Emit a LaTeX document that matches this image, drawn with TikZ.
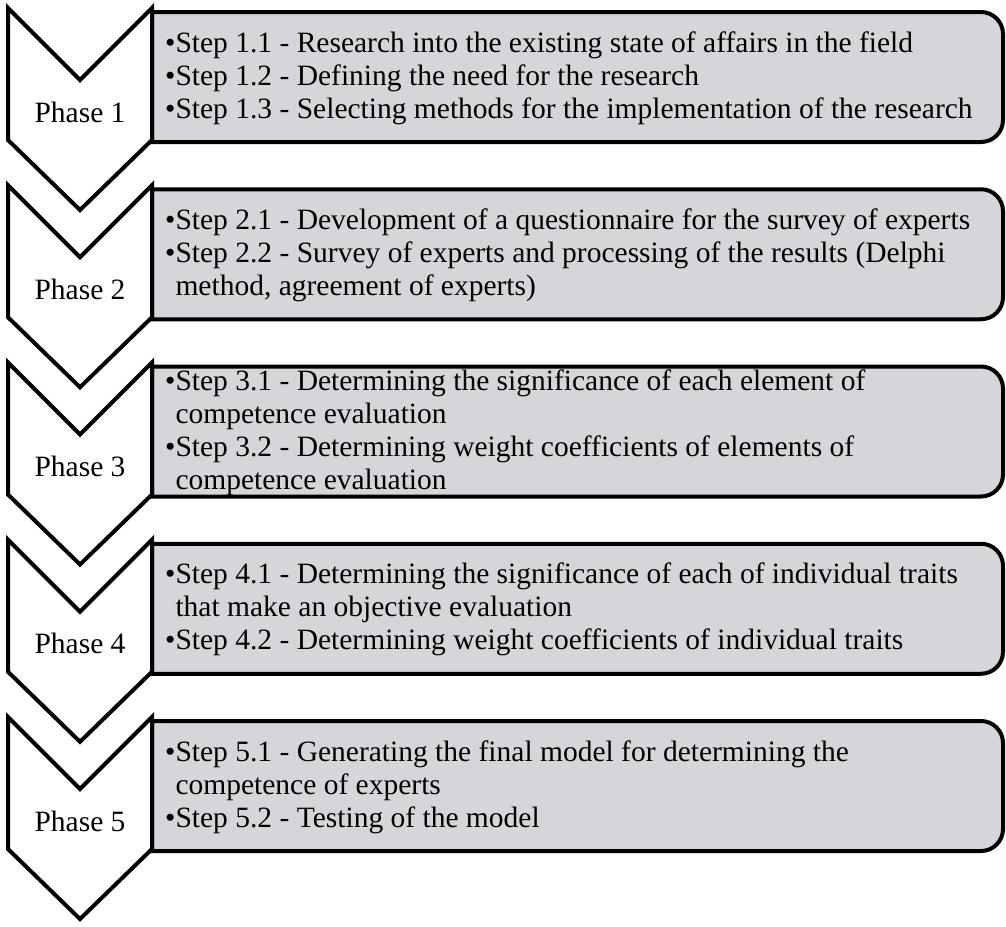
\documentclass[tikz,border=0pt]{standalone}
\usepackage{fontspec}
\setmainfont{Liberation Serif}
\usetikzlibrary{positioning}
\definecolor{stepgray}{RGB}{213,214,217}

\begin{document}
\begin{tikzpicture}[x=1pt,y=-1pt,
    chevron/.style={draw=black,line width=4pt,fill=white,line join=miter},
    stepbox/.style={draw=black,line width=4pt,fill=stepgray},
    phaselabel/.style={font=\fontsize{29.5}{33}\selectfont},
    steptext/.style={anchor=west,align=left,inner sep=0pt,font=\fontsize{29.5}{33}\selectfont},
   ]
    \useasboundingbox (0,0) rectangle (1006,926);

    % chevrons and grey boxes, one per phase
    \foreach \t/\n in {8/1,185.25/2,362.5/3,539.75/4,717/5} {
      \draw[stepbox] (152,\t+4) -- (900,\t+4) [rounded corners=22] -- (1003,\t+4)
            -- (1003,\t+134) -- (900,\t+134) [sharp corners] -- (152,\t+134) -- cycle;
      \draw[chevron] (8,\t) -- (80,\t+72) -- (152,\t) -- (152,\t+132)
            -- (80,\t+202) -- (8,\t+132) -- cycle;
      \node (phase\n) [phaselabel] at (80,\t+104) {Phase \n};
      \coordinate (box\n) at (165,\t+70);
    }

    \node (steps1) [steptext] at (box1) {•Step 1.1 - Research into the existing state of affairs in the field\\
        •Step 1.2 - Defining the need for the research\\
        •Step 1.3 - Selecting methods for the implementation of the research};
    \node (steps2) [steptext] at (box2) {•Step 2.1 - Development of a questionnaire for the survey of experts\\
        •Step 2.2 - Survey of experts and processing of the results (Delphi\\
        \hphantom{•}method, agreement of experts)};
    \node (steps3) [steptext] at (box3) {•Step 3.1 - Determining the significance of each element of\\
        \hphantom{•}competence evaluation\\
        •Step 3.2 - Determining weight coefficients of elements of\\
        \hphantom{•}competence evaluation};
    \node (steps4) [steptext] at (box4) {•Step 4.1 - Determining the significance of each of individual traits\\
        \hphantom{•}that make an objective evaluation\\
        •Step 4.2 - Determining weight coefficients of individual traits};
    \node (steps5) [steptext] at (box5) {•Step 5.1 - Generating the final model for determining the\\
        \hphantom{•}competence of experts\\
        •Step 5.2 - Testing of the model};
\end{tikzpicture}
\end{document}
